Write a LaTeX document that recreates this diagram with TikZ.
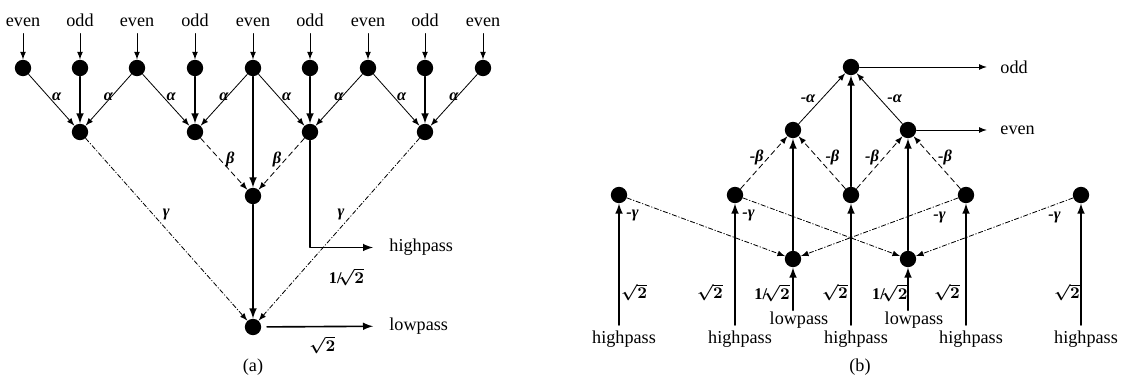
\documentclass[tikz,border=0pt]{standalone}
\usepackage{fontspec}
\setmainfont{Liberation Serif}

\begin{document}
\begin{tikzpicture}[x=0.55pt,y=-0.55pt,line cap=round,line join=round,
    dot/.style={circle,fill=black,inner sep=0pt,minimum size=9pt},
    wt/.style={font=\small\bfseries\itshape\boldmath,inner sep=1pt},
    arr/.style={-latex,line width=0.45pt},
    varr/.style={-latex,line width=0.9pt},
    dsh/.style={arr,dash pattern=on 3pt off 2pt},
    dd/.style={arr,dash pattern=on 2.5pt off 1.2pt on 0.4pt off 1.2pt}]
    \useasboundingbox (0,0) rectangle (1122,378);

    % (a) forward lifting
    \foreach \i/\x/\lab in {1/23/even,2/80/odd,3/137/even,4/195/odd,5/253/even,
                            6/310/odd,7/368/even,8/425/odd,9/483/even} {
        \node[anchor=base] (in\i) at (\x,27) {\lab};
        \node[dot] (s\i) at (\x,68) {};
        \draw[arr] (in\i) -- (s\i);
    }
    \foreach \j/\x in {1/80,2/195,3/310,4/425} {
        \node[dot] (p\j) at (\x,132) {};
    }
    \node[dot] (q) at (253,196) {};
    \node[dot] (lo) at (253,327) {};

    \foreach \j in {1,2,3,4} {
        \pgfmathtruncatemacro{\ia}{2*\j-1}
        \pgfmathtruncatemacro{\ib}{2*\j}
        \pgfmathtruncatemacro{\ic}{2*\j+1}
        \draw[arr] (s\ia) -- node[wt,pos=.44,xshift=4.4pt] {α} (p\j);
        \draw[varr] (s\ib) -- (p\j);
        \draw[arr] (s\ic) -- node[wt,pos=.44,xshift=-1.6pt] {α} (p\j);
    }
    \draw[varr] (s5) -- (q);
    \draw[dsh] (p2) -- node[wt,pos=.42,xshift=5.5pt] {β} (q);
    \draw[dsh] (p3) -- node[wt,pos=.42,xshift=-4.4pt] {β} (q);
    \draw[varr] (q) -- (lo);
    \draw[dd] (p1) -- node[wt,pos=.42,xshift=7pt] {γ} (lo);
    \draw[dd] (p4) -- node[wt,pos=.42,xshift=-6pt] {γ} (lo);

    \node[anchor=west] (hpa) at (383,247.5) {highpass};
    \node[anchor=west] (lpa) at (383,326) {lowpass};
    \draw[varr,shorten >=5.5pt] (p3) |- node[wt,pos=.75,yshift=-16.2pt] {\textup{1/}$\!\sqrt{2}$} (hpa);
    \draw[varr,shorten <=3pt,shorten >=5.5pt] (lo) -- node[wt,pos=.5,yshift=-10pt] {$\sqrt{2}$} (lpa);
    \node[anchor=base] (capa) at (253,372) {(a)};

    % (b) inverse lifting
    \node[dot] (t) at (851,67) {};
    \node[dot] (u1) at (793,130) {};
    \node[dot] (u2) at (908,130) {};
    \foreach \i/\x in {1/619,2/735,3/851,4/966,5/1081} {
        \node[dot] (v\i) at (\x,195) {};
    }
    \node[dot] (w1) at (793,259) {};
    \node[dot] (w2) at (908,259) {};

    \node[anchor=west] (odd) at (994,67) {odd};
    \node[anchor=west] (even) at (994,130) {even};
    \draw[arr,shorten >=4pt] (t) -- (odd);
    \draw[arr,shorten >=4pt] (u2) -- (even);

    \draw[arr] (u1) -- node[wt,midway,xshift=-7.7pt] {-α} (t);
    \draw[arr] (u2) -- node[wt,midway,xshift=8.3pt] {-α} (t);
    \draw[varr] (v3) -- (t);
    \draw[varr] (w1) -- (u1);
    \draw[varr] (w2) -- (u2);
    \draw[dsh] (v2) -- node[wt,pos=.6,xshift=-6.6pt] {-β} (u1);
    \draw[dsh] (v3) -- node[wt,pos=.6,xshift=8.3pt] {-β} (u1);
    \draw[dsh] (v3) -- node[wt,pos=.6,xshift=-6.6pt] {-β} (u2);
    \draw[dsh] (v4) -- node[wt,pos=.6,xshift=7pt] {-β} (u2);
    \draw[dd] (v1) -- node[wt,pos=0,xshift=3pt,yshift=-9.5pt] {-γ} (w1);
    \draw[dd] (v2) -- node[wt,pos=0,xshift=3pt,yshift=-9.5pt] {-γ} (w2);
    \draw[dd] (v4) -- node[wt,pos=0,xshift=-10.2pt,yshift=-10.6pt] {-γ} (w1);
    \draw[dd] (v5) -- node[wt,pos=0,xshift=-10.2pt,yshift=-10.6pt] {-γ} (w2);

    \foreach \i/\x/\sh in {1/619/8.3pt,2/735/-13.8pt,3/851/-8.8pt,4/966/-10.5pt,5/1081/-7.7pt} {
        \node[anchor=base] (hp\i) at (\x+5,344) {highpass};
        \draw[varr] (hp\i.north -| v\i) -- node[wt,pos=.27,xshift=\sh] {$\sqrt{2}$} (v\i);
    }
    \foreach \k/\x/\sh in {1/793/-11.5pt,2/908/-10pt} {
        \node[anchor=base,inner sep=1pt] (lp\k) at (\x+6,325) {lowpass};
        \draw[varr] (lp\k.north -| w\k) -- node[wt,pos=.41,xshift=\sh] {\textup{1/}$\!\sqrt{2}$} (w\k);
    }
    \node[anchor=base] (capb) at (860,372) {(b)};
\end{tikzpicture}
\end{document}
